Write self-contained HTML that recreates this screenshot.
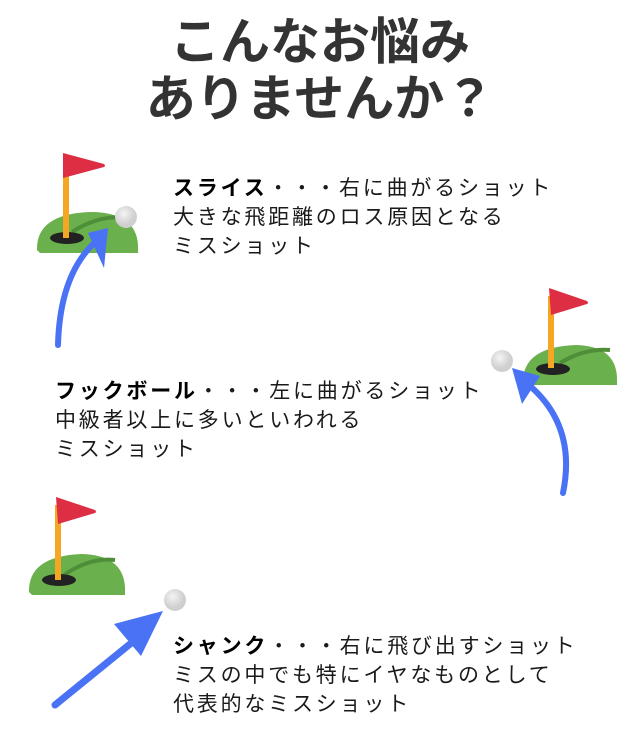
<!DOCTYPE html>
<html><head><meta charset="utf-8"><style>
body{margin:0;background:#fff;width:640px;height:738px;overflow:hidden;position:relative;font-family:"Liberation Sans","Noto Sans CJK JP",sans-serif;color:#222}
.t{position:absolute;left:0;width:640px;text-align:center;font-weight:bold;font-size:50px;line-height:55px;color:#333}
.b{position:absolute;font-size:21px;line-height:29px;color:#1a1a1a;white-space:nowrap;letter-spacing:2.8px}
.b b{font-weight:bold;color:#000}
svg{position:absolute;left:0;top:0}
</style></head><body>
<svg width="640" height="738" viewBox="0 0 640 738">
<defs>
<radialGradient id="bg" cx="40%" cy="35%"><stop offset="0" stop-color="#f4f4f4"/><stop offset="1" stop-color="#cfcfcf"/></radialGradient>
</defs>
<!-- icon 1 -->
<path d="M37,250 Q36,214 90,212 Q136,212 138,245 L138,253 L40,253 Z" fill="#6ab04c"/>
<path d="M72,232 Q100,214 128,218" stroke="#4e8e38" stroke-width="4" fill="none"/>
<ellipse cx="67" cy="238" rx="17" ry="6" fill="#222"/>
<rect x="63" y="160" width="6" height="78" fill="#f5a623"/>
<path d="M63,153 L104,164 Q106,166 104,167 L63,178 Z" fill="#dd2e44"/>
<circle cx="126" cy="217" r="11" fill="url(#bg)"/>
<path d="M58,345 Q60,270 100,238" stroke="#4a72f5" stroke-width="6" fill="none" stroke-linecap="round"/>
<path d="M88,233 L108,228 L104,268 Z" fill="#4a72f5"/>
<!-- icon 2 -->
<path d="M523,383 Q522,347 576,345 Q616,346 617,378 L617,385 L526,385 Z" fill="#6ab04c"/>
<path d="M560,363 Q585,348 610,350" stroke="#4e8e38" stroke-width="4" fill="none"/>
<ellipse cx="553" cy="369" rx="17" ry="6" fill="#222"/>
<rect x="548" y="296" width="6" height="72" fill="#f5a623"/>
<path d="M549,288 L587,301 Q589,303 587,304 L551,315 Z" fill="#dd2e44"/>
<circle cx="502" cy="361" r="11" fill="url(#bg)"/>
<path d="M563,493 Q578,420 520,378" stroke="#4a72f5" stroke-width="6" fill="none" stroke-linecap="round"/>
<path d="M512,368 L540,376 L522,404 Z" fill="#4a72f5"/>
<!-- icon 3 -->
<path d="M29,592 Q28,556 82,554 Q123,555 125,587 L125,595 L32,595 Z" fill="#6ab04c"/>
<path d="M64,575 Q90,557 115,560" stroke="#4e8e38" stroke-width="4" fill="none"/>
<ellipse cx="59" cy="580" rx="17" ry="6" fill="#222"/>
<rect x="55" y="505" width="6" height="75" fill="#f5a623"/>
<path d="M56,497 L95,510 Q97,512 95,513 L58,524 Z" fill="#dd2e44"/>
<circle cx="175" cy="600" r="11" fill="url(#bg)"/>
<path d="M55,705 L135,640" stroke="#4a72f5" stroke-width="7" stroke-linecap="round"/>
<path d="M163,611 L114,624 L141,656 Z" fill="#4a72f5"/>
</svg>
<div class="t" style="top:15px">こんなお悩み</div>
<div class="t" style="top:72px">ありませんか？</div>
<div class="b" style="left:173px;top:174px"><b>スライス</b>・・・右に曲がるショット<br>大きな飛距離のロス原因となる<br>ミスショット</div>
<div class="b" style="left:55px;top:377px"><b>フックボール</b>・・・左に曲がるショット<br>中級者以上に多いといわれる<br>ミスショット</div>
<div class="b" style="left:173px;top:632px"><b>シャンク</b>・・・右に飛び出すショット<br>ミスの中でも特にイヤなものとして<br>代表的なミスショット</div>
</body></html>
